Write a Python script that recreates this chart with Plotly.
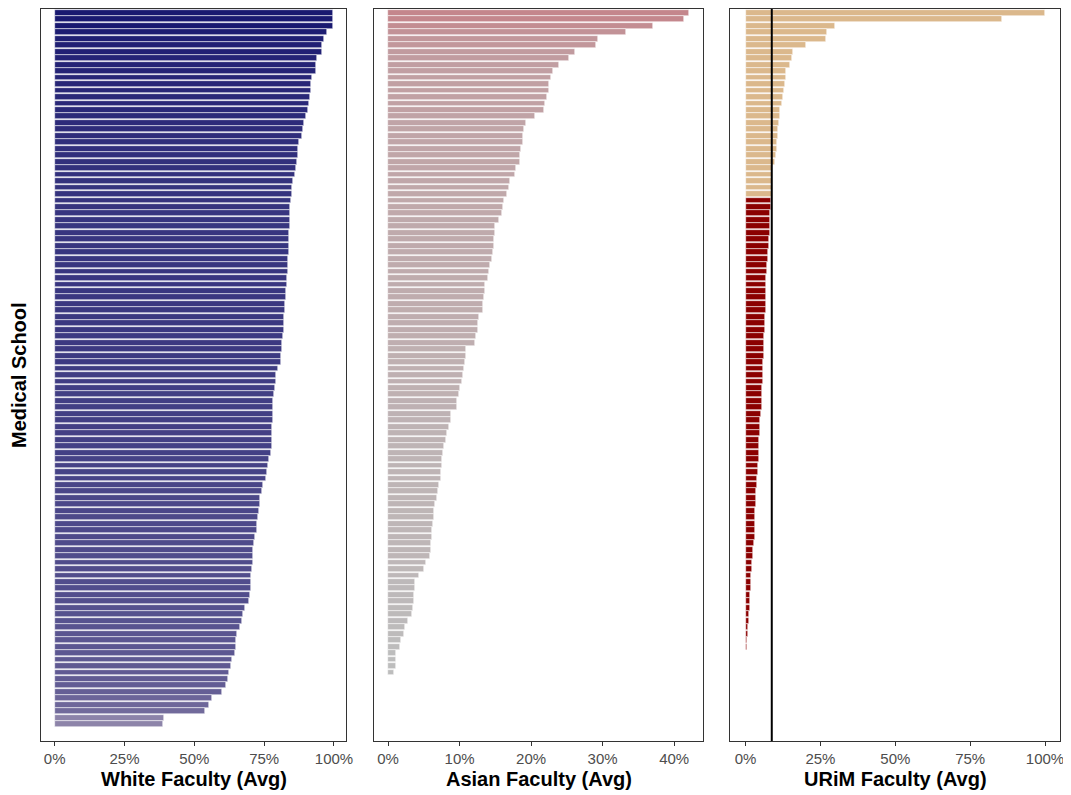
import plotly.graph_objects as go

N_SCHOOLS = 113

white_avg = [0.998, 0.998, 0.998, 0.976, 0.965, 0.958, 0.958, 0.939, 0.937, 0.934,
             0.922, 0.919, 0.918, 0.915, 0.910, 0.907, 0.901, 0.894, 0.890, 0.884,
             0.875, 0.872, 0.871, 0.868, 0.865, 0.862, 0.854, 0.851, 0.850, 0.845,
             0.844, 0.842, 0.842, 0.841, 0.840, 0.839, 0.838, 0.838, 0.837, 0.835,
             0.834, 0.832, 0.831, 0.829, 0.827, 0.826, 0.823, 0.822, 0.821, 0.820,
             0.816, 0.814, 0.813, 0.810, 0.809, 0.801,
             0.794, 0.791, 0.788, 0.784, 0.783, 0.783, 0.782, 0.780, 0.779, 0.779,
             0.778, 0.777, 0.776, 0.767, 0.763, 0.761, 0.757, 0.747, 0.741, 0.736,
             0.735, 0.733, 0.727, 0.723, 0.723, 0.718, 0.712, 0.711, 0.710, 0.709,
             0.706, 0.704, 0.703, 0.702, 0.699, 0.697, 0.681, 0.675, 0.670, 0.665,
             0.654, 0.650, 0.649, 0.647, 0.635, 0.632, 0.625, 0.622, 0.614, 0.598,
             0.564, 0.551, 0.537, 0.393, 0.388]

asian_avg = [0.421, 0.414, 0.371, 0.332, 0.2935, 0.291, 0.261, 0.253, 0.2385, 0.2306,
             0.2283, 0.2255, 0.225, 0.222, 0.219, 0.2185, 0.205, 0.193, 0.190, 0.189,
             0.188, 0.1855, 0.1845, 0.1845, 0.1785, 0.1775, 0.1705, 0.169, 0.1668, 0.1617,
             0.1607, 0.1593, 0.155, 0.150, 0.1495, 0.1486, 0.1477, 0.1472, 0.1449, 0.1426,
             0.1416, 0.1393, 0.136, 0.1356, 0.1342, 0.1332, 0.1323, 0.1276, 0.1258, 0.1254,
             0.1226, 0.122,
             0.1095, 0.1085, 0.1076, 0.1062, 0.1048, 0.103, 0.1011, 0.0988, 0.0964, 0.0964,
             0.088, 0.0876, 0.0853, 0.082, 0.0811, 0.0787, 0.0769, 0.0755, 0.075, 0.0741,
             0.0736, 0.0708, 0.0694, 0.0685, 0.0662, 0.0648, 0.0643, 0.0624, 0.0615, 0.0615,
             0.0606, 0.0606, 0.0583, 0.0527, 0.0499, 0.0438, 0.0382, 0.0377, 0.0368, 0.0359,
             0.0345, 0.0335, 0.028, 0.0238, 0.0228, 0.0177, 0.0168, 0.0112, 0.0112, 0.0107,
             0.0089]

urim_avg = [1.0, 0.856, 0.298, 0.271, 0.267, 0.203, 0.158, 0.156, 0.148, 0.136,
            0.135, 0.133, 0.128, 0.125, 0.123, 0.114, 0.114, 0.111, 0.109, 0.109,
            0.106, 0.104, 0.102, 0.097, 0.0895, 0.0885, 0.088, 0.0878, 0.0876,
            0.085, 0.0839, 0.0817, 0.0817, 0.0817, 0.0806, 0.0772, 0.0772, 0.0761, 0.075,
            0.0728, 0.0717, 0.0694, 0.0683, 0.0683, 0.0683, 0.0678, 0.0672, 0.0661, 0.065,
            0.065, 0.0628, 0.0628, 0.0617, 0.0606, 0.0594, 0.0583, 0.0583, 0.0572, 0.055,
            0.055, 0.0539, 0.0539, 0.0517, 0.0483, 0.0472, 0.0472, 0.0461, 0.0439, 0.0439,
            0.0439, 0.0417, 0.0406, 0.0383, 0.0372, 0.0361, 0.035, 0.0339, 0.0328, 0.0328,
            0.0322, 0.0317, 0.0317, 0.0272, 0.0261, 0.025, 0.0217, 0.0206, 0.0194, 0.0194,
            0.0183, 0.0161, 0.015, 0.0139, 0.0128, 0.0106, 0.0094, 0.0083, 0.0061, 0.005,
            0.0028, 0.0017]

URIM_REFERENCE = 0.0875

white_ticks = [0, 0.25, 0.5, 0.75, 1.0]
asian_ticks = [0, 0.1, 0.2, 0.3, 0.4]
urim_ticks = [0, 0.25, 0.5, 0.75, 1.0]

titles = ["White Faculty (Avg)", "Asian Faculty (Avg)", "URiM Faculty (Avg)"]

# page body has an 8px margin; the figure is sized to fit the window after it
OFF = 8
W, H = 1071 - OFF, 795 - OFF - 3
FONT = "Liberation Sans, Arial, Helvetica, sans-serif"


def px_x(x):
    return (x - OFF) / W


def px_y(y):
    return (H - (y - OFF)) / H


def ranks(vals):
    return list(range(1, len(vals) + 1))


fig = go.Figure()

fig.add_trace(go.Bar(
    x=white_avg, y=ranks(white_avg), orientation="h", width=0.9,
    marker=dict(color=white_avg, colorscale=[[0, "#8d84a9"], [1, "#191970"]],
                cmin=min(white_avg), cmax=max(white_avg),
                line=dict(color="rgba(255,255,255,0.85)", width=0.6)),
    xaxis="x", yaxis="y", showlegend=False, hoverinfo="x"))

fig.add_trace(go.Bar(
    x=asian_avg, y=ranks(asian_avg), orientation="h", width=0.9,
    marker=dict(color=asian_avg, colorscale=[[0, "#bdbdbd"], [1, "#c4868c"]],
                cmin=min(asian_avg), cmax=max(asian_avg),
                line=dict(color="rgba(255,255,255,0.85)", width=0.6)),
    xaxis="x2", yaxis="y2", showlegend=False, hoverinfo="x"))

urim_colors = ["#DBB88C" if v >= URIM_REFERENCE else "#8B0000" for v in urim_avg]
fig.add_trace(go.Bar(
    x=urim_avg, y=ranks(urim_avg), orientation="h", width=0.9,
    marker=dict(color=urim_colors, line=dict(color="rgba(255,255,255,0.85)", width=0.6)),
    xaxis="x3", yaxis="y3", showlegend=False, hoverinfo="x"))

fig.add_shape(type="line", xref="x3", yref="y3 domain", x0=URIM_REFERENCE, x1=URIM_REFERENCE,
              y0=0, y1=1, line=dict(color="black", width=2))

ydom = [px_y(741), px_y(9)]
doms = [[px_x(41), px_x(346)], [px_x(374), px_x(703)], [px_x(730), px_x(1060)]]
ranges = [[-0.049, 1.043], [-0.0196, 0.4403], [-0.052, 1.050]]
tickss = [white_ticks, asian_ticks, urim_ticks]

axis_common = dict(showline=True, linecolor="#333333", linewidth=1, mirror=True,
                   showgrid=False, zeroline=False, automargin=False)

for i in range(3):
    sx = "" if i == 0 else str(i + 1)
    fig.layout["xaxis" + sx] = dict(
        domain=doms[i], range=ranges[i], anchor="y" + sx,
        tickvals=tickss[i], ticktext=[f"{int(round(t * 100))}%" for t in tickss[i]],
        ticks="outside", ticklen=4, tickcolor="#333333", tickwidth=1,
        tickfont=dict(family=FONT, size=15, color="#4d4d4d"),
        **axis_common)
    fig.layout["yaxis" + sx] = dict(
        domain=ydom, range=[N_SCHOOLS + 0.6, 0.4], anchor="x" + sx,
        showticklabels=False, ticks="", **axis_common)
    fig.add_annotation(text="<b>" + titles[i] + "</b>", xref="paper", yref="paper",
                       x=(doms[i][0] + doms[i][1]) / 2, y=px_y(779),
                       xanchor="center", yanchor="middle", showarrow=False,
                       font=dict(family=FONT, size=20, color="black"))

fig.add_annotation(text="<b>Medical School</b>", xref="paper", yref="paper",
                   x=px_x(19), y=px_y(375), textangle=-90, showarrow=False,
                   xanchor="center", yanchor="middle",
                   font=dict(family=FONT, size=20, color="black"))

fig.update_layout(width=W, height=H, margin=dict(l=0, r=0, t=0, b=0, autoexpand=False),
                  paper_bgcolor="white", plot_bgcolor="white", bargap=0,
                  font=dict(family=FONT))

fig.write_html("out.html")
